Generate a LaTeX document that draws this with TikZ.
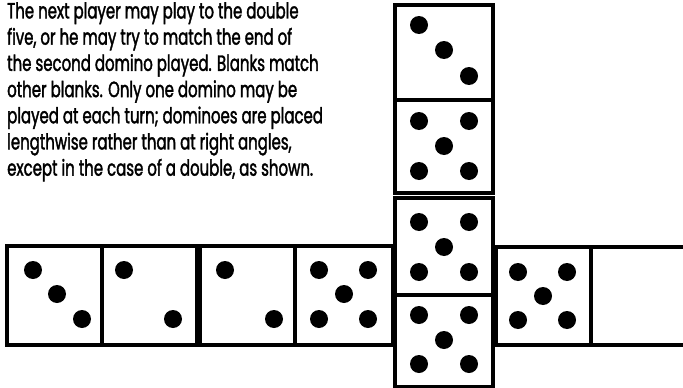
\documentclass[tikz,border=0pt]{standalone}
\usepackage{fontspec}
\newfontfamily\notefont[FakeStretch=0.68,FakeBold=1.6]{Poppins}
\usetikzlibrary{positioning}

\tikzset{
  tile/.style={draw,line width=3.2pt},
  pip/.style={fill=black},
  note/.style={anchor=north west,align=left,inner sep=0pt,
    font=\notefont\fontsize{22}{26.2}\selectfont}
}

\begin{document}
\begin{tikzpicture}[x=1pt,y=-1pt]
\useasboundingbox (0,0) rectangle (683,388);
\clip (0,0) rectangle (683,388);

% rule text
\node[note] (rules) at (7,2) {The next player may play to the double\\
five, or he may try to match the end of\\
the second domino played. Blanks match\\
other blanks. Only one domino may be\\
played at each turn; dominoes are placed\\
lengthwise rather than at right angles,\\
except in the case of a double, as shown.};

% the double five column
\draw[tile] (395,5) rectangle (493,193);
\draw[tile] (395,100) -- (493,100);
\draw[tile] (395,198) rectangle (493,387);
\draw[tile] (395,295) -- (493,295);

% the row of dominoes
\draw[tile] (7,246) rectangle (197,345);
\draw[tile] (102,246) -- (102,345);
\draw[tile] (200,246) rectangle (393,345);
\draw[tile] (295,246) -- (295,345);
\draw[tile] (496,247) rectangle (700,345);
\draw[tile] (591,247) -- (591,345);

% pips
\foreach \x/\y in {419/25,444/50,469/76,
                   419/121,469/121,444/146,419/171,469/171,
                   419/222,469/222,444/247,419/272,469/272,
                   419/315,469/315,444/340,419/364,469/364,
                   33/270,57/294,82/319,
                   124/270,173/319,
                   225/270,274/319,
                   319/270,368/270,344/294,319/319,368/319,
                   518/272,567/272,543/296,518/320,567/320}
  \fill[pip] (\x,\y) circle[radius=9pt];
\end{tikzpicture}
\end{document}
